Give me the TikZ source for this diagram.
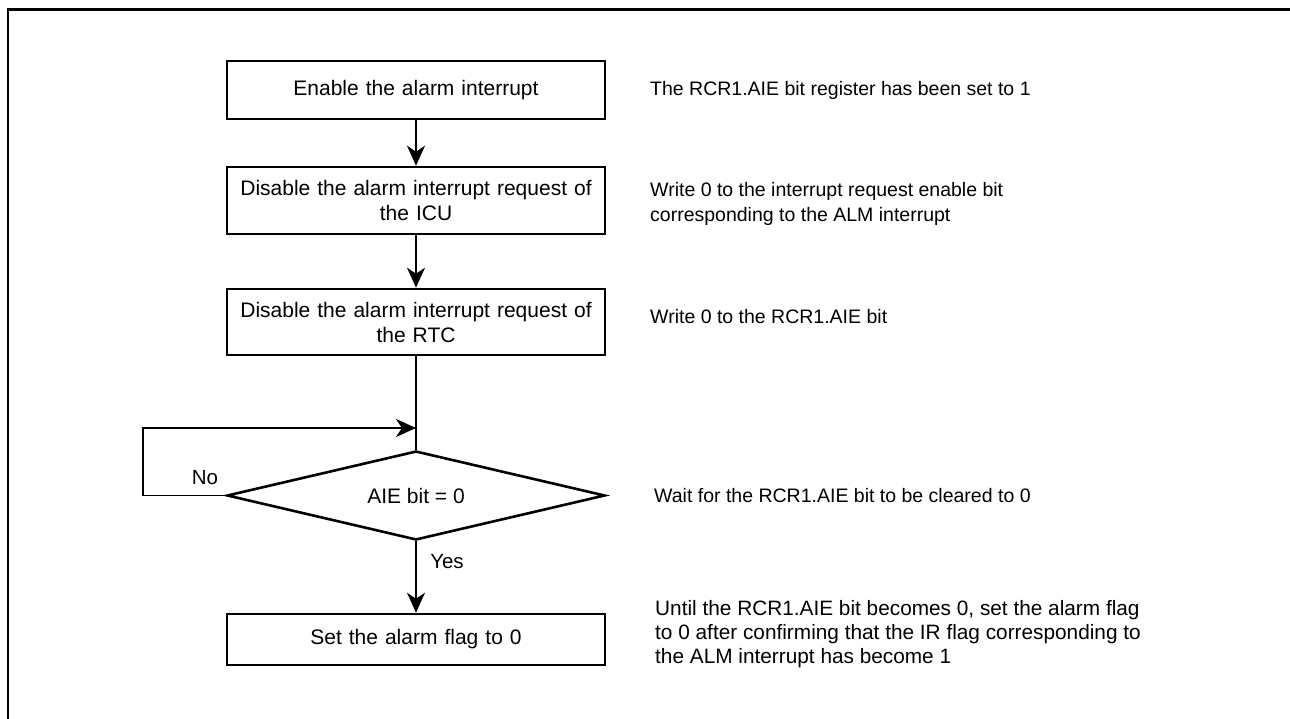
\documentclass[tikz,border=0pt]{standalone}
\usepackage{fontspec}
\setmainfont{Liberation Sans}
\usetikzlibrary{shapes.geometric,arrows.meta}
\pgfdeclarelayer{edgelayer}
\pgfdeclarelayer{nodelayer}
\pgfsetlayers{edgelayer,nodelayer,main}
\tikzstyle{link}=[draw=black, line width=1.3pt]
\tikzstyle{flow}=[link, -{Stealth[length=20pt, width=18pt, inset=6pt]}]
\tikzstyle{process}=[rectangle, fill=white, draw=black, line width=2.6pt, minimum width=378pt, text width=372pt, align=center, inner sep=0pt, font=\fontsize{21}{25}\selectfont]
\tikzstyle{decision}=[diamond, fill=white, draw=black, line width=2.6pt, aspect=4.2, minimum width=378pt, minimum height=89pt, inner sep=0pt, font=\fontsize{21}{25}\selectfont]
\tikzstyle{note}=[anchor=west, align=left, inner sep=0pt, font=\fontsize{19.5}{25.5}\selectfont]
\tikzstyle{answer}=[inner sep=0pt, font=\fontsize{20.5}{25}\selectfont]
\tikzstyle{frame}=[draw=black, line width=2.7pt]

\begin{document}
\begin{tikzpicture}[x=1pt, y=-1pt]
				\useasboundingbox (0, 0) rectangle (1290, 719);
				\draw [style=frame] (8, 719) -- (8, 9.7) -- (1290, 9.7);
				\begin{pgfonlayer}{nodelayer}
					\node [style=process, minimum height=58pt] (0) at (416, 90) {Enable the alarm interrupt};
					\node [style=process, minimum height=67pt] (1) at (416, 200.5) {Disable the alarm interrupt request of\\the ICU};
					\node [style=process, minimum height=66pt] (2) at (416, 322) {Disable the alarm interrupt request of\\the RTC};
					\node [style=decision] (3) at (416, 495.5) {AIE bit = 0};
					\node [style=process, minimum height=51pt] (4) at (416, 639.5) {Set the alarm flag to 0};
					\node [style=note] (5) at (650, 90) {The RCR1.AIE bit register has been set to 1};
					\node [style=note] (6) at (650, 204) {Write 0 to the interrupt request enable bit\\corresponding to the ALM interrupt};
					\node [style=note] (7) at (650, 317) {Write 0 to the RCR1.AIE bit};
					\node [style=note] (8) at (654, 496) {Wait for the RCR1.AIE bit to be cleared to 0};
					\node [style=note, font=\fontsize{20.8}{24}\selectfont] (9) at (655, 634.5) {Until the RCR1.AIE bit becomes 0, set the alarm flag\\to 0 after confirming that the IR flag corresponding to\\the ALM interrupt has become 1};
					\node [style=answer] (10) at (205, 478) {No};
					\node [style=answer] (11) at (447, 562) {Yes};
					\coordinate (12) at (416, 428);
					\coordinate (13) at (143, 495.5);
				\end{pgfonlayer}
				\begin{pgfonlayer}{edgelayer}
					\draw [style=flow] (0) to (1);
					\draw [style=flow] (1) to (2);
					\draw [style=link] (2) to (3);
					\draw [style=flow] (3.west) -- (13) |- (12);
					\draw [style=flow] (3) to (4);
				\end{pgfonlayer}
			\end{tikzpicture}
\end{document}
